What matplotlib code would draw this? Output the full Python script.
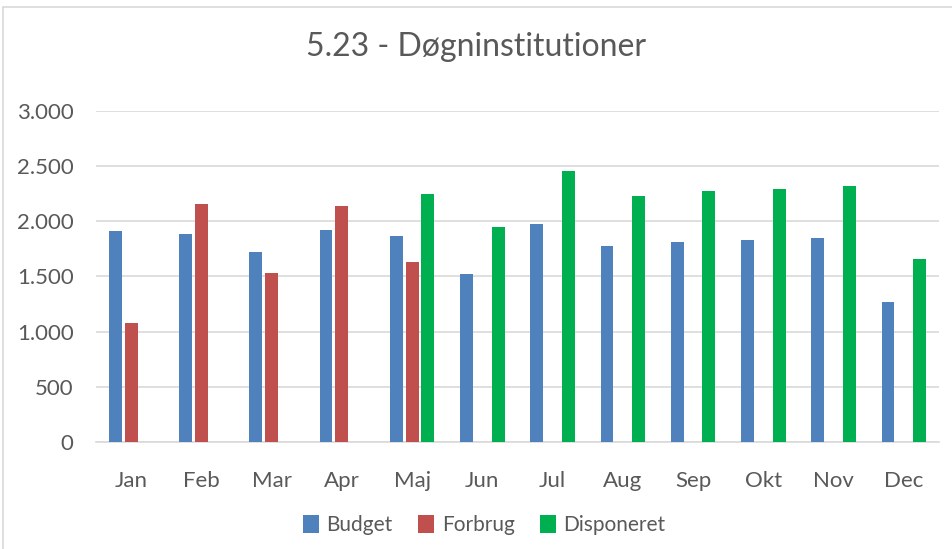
import matplotlib
matplotlib.use('Agg')
import matplotlib.pyplot as plt
import numpy as np
from matplotlib.patches import Rectangle
from matplotlib.ticker import FuncFormatter

months = ['Jan', 'Feb', 'Mar', 'Apr', 'Maj', 'Jun', 'Jul', 'Aug', 'Sep', 'Okt', 'Nov', 'Dec']
budget = [1911, 1884, 1721, 1920, 1866, 1523, 1975, 1776, 1812, 1830, 1848, 1269]
forbrug = [1079, 2156, 1532, 2138, 1631, None, None, None, None, None, None, None]
disponeret = [None, None, None, None, 2246, 1948, 2454, 2228, 2273, 2291, 2318, 1658]
series_names = ['Budget', 'Forbrug', 'Disponeret']
colors = ['#4F81BD', '#C0504D', '#00B050']

plt.rcParams['font.family'] = ['Lato', 'DejaVu Sans']

fig = plt.figure(figsize=(9.53, 5.49), dpi=100)
ax = fig.add_axes([0.1007, 0.1944, 0.8846, 0.604])

# chart border
fig.patches.append(Rectangle((3 / 953, -0.01), 1.0, 1 - 7 / 549 + 0.01, transform=fig.transFigure,
                             fill=False, edgecolor='#D9D9D9', linewidth=1.2))

x = np.arange(len(months))
slot = 0.225
width = 0.183
for i, (vals, name, c) in enumerate(zip([budget, forbrug, disponeret], series_names, colors)):
    v = [np.nan if a is None else a for a in vals]
    ax.bar(x + (i - 1) * slot, v, width=width, color=c, label=name, zorder=3)

ax.set_xlim(-0.5, len(months) - 0.5)
ax.set_ylim(0, 3000)
ax.set_yticks(np.arange(0, 3001, 500))
ax.yaxis.set_major_formatter(FuncFormatter(lambda v, p: f'{int(v):,}'.replace(',', '.')))
ax.set_xticks(x)
ax.set_xticklabels(months)

ax.grid(axis='y', color='#D9D9D9', linewidth=1.2, zorder=0)
for s in ['top', 'right', 'left']:
    ax.spines[s].set_visible(False)
ax.spines['bottom'].set_color('#D9D9D9')
ax.spines['bottom'].set_linewidth(1.2)
ax.tick_params(axis='both', length=0, colors='#595959', labelsize=16)
ax.tick_params(axis='y', pad=16)
ax.tick_params(axis='x', pad=21)

fig.text(0.5, 0.915, '5.23 - Døgninstitutioner', ha='center', va='center', fontsize=23,
         color='#595959')

fig.legend(loc='center', bbox_to_anchor=(0.508, 0.044), ncol=3, frameon=False, fontsize=15,
           handlelength=0.8, handleheight=1.0, handletextpad=0.35, columnspacing=1.2,
           labelcolor='#595959')

fig.savefig('out.png', dpi=100)
